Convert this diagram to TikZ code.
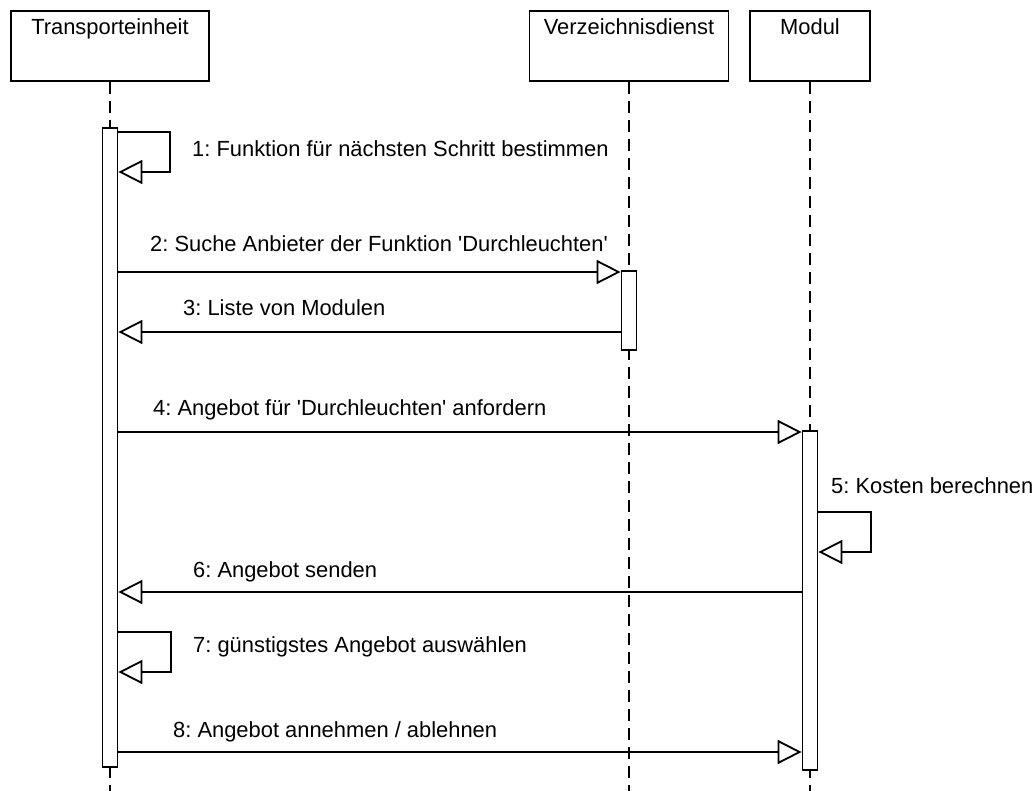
\documentclass[tikz,border=0pt]{standalone}
\usepackage{fontspec}
\setmainfont{Liberation Sans}
\usetikzlibrary{arrows.meta}
\frenchspacing
\begin{document}
\begin{tikzpicture}[x=1pt,y=-1pt,
  txt/.style={font=\fontsize{21.9}{26}\selectfont},
  lbl/.style={txt, anchor=base west, inner sep=0pt},
  objbox/.style={txt, draw, line width=1.8pt, inner sep=0pt, text height=24pt, text depth=46pt, anchor=north},
  life/.style={line width=1.8pt, dash pattern=on 12pt off 7pt},
  actbar/.style={draw, fill=white, line width=1.8pt, minimum width=15pt, inner sep=0pt, anchor=north},
  msg/.style={line width=1.8pt, -{Triangle[open, length=24pt, width=24pt, line width=1.8pt]}}
]
\useasboundingbox (0,0) rectangle (1035,791);
% objects
\node[objbox, minimum width=198pt] (oT) at (110,10) {Transporteinheit};
\node[objbox, minimum width=199pt] (oV) at (629,10) {Verzeichnisdienst};
\node[objbox, minimum width=120pt] (oM) at (810,10) {Modul};
% lifelines
\coordinate (eT) at (110,791);
\coordinate (eV) at (629,791);
\coordinate (eM) at (810,791);
\draw[life] (oT.south) -- (eT);
\draw[life] (oV.south) -- (eV);
\draw[life] (oM.south) -- (eM);
% activation bars
\node[actbar, minimum height=639pt] (aT) at (110,127) {};
\node[actbar, minimum height=79pt] (aV) at (629,270) {};
\node[actbar, minimum height=339pt] (aM) at (810,430) {};
% 1 self
\coordinate (s1) at (170,172);
\draw[msg] (aT.east |- 0,132) -| (s1) -- (aT.east |- s1);
\node[lbl] (l1) at (192,157) {1: Funktion für nächsten Schritt bestimmen};
% 2
\draw[msg] (aT.east |- 0,272) -- (aV.west |- 0,272);
\node[lbl] (l2) at (150,252) {2: Suche Anbieter der Funktion \textquotesingle Durchleuchten\textquotesingle};
% 3
\draw[msg] (aV.west |- 0,332) -- (aT.east |- 0,332);
\node[lbl] (l3) at (183,316) {3: Liste von Modulen};
% 4
\draw[msg] (aT.east |- 0,432) -- (aM.west |- 0,432);
\node[lbl] (l4) at (153,415) {4: Angebot für \textquotesingle Durchleuchten\textquotesingle{} anfordern};
% 5 self
\coordinate (s5) at (871,552);
\draw[msg] (aM.east |- 0,512) -| (s5) -- (aM.east |- s5);
\node[lbl] (l5) at (831,493) {5: Kosten berechnen};
% 6
\draw[msg] (aM.west |- 0,592) -- (aT.east |- 0,592);
\node[lbl] (l6) at (193,577) {6: Angebot senden};
% 7 self
\coordinate (s7) at (171,672);
\draw[msg] (aT.east |- 0,632) -| (s7) -- (aT.east |- s7);
\node[lbl] (l7) at (193,652) {7: günstigstes Angebot auswählen};
% 8
\draw[msg] (aT.east |- 0,752) -- (aM.west |- 0,752);
\node[lbl] (l8) at (173,737) {8: Angebot annehmen / ablehnen};
\end{tikzpicture}
\end{document}
